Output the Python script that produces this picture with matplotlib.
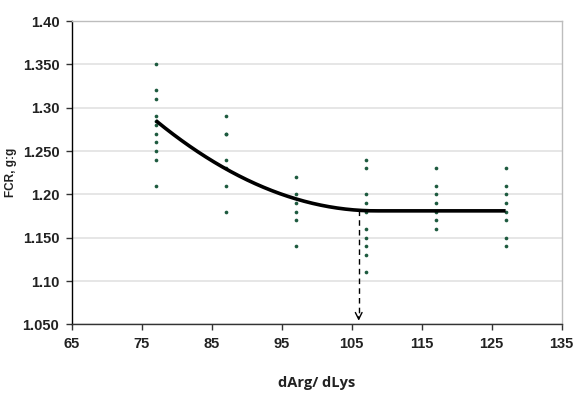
import numpy as np
import matplotlib
matplotlib.use("Agg")
import matplotlib.pyplot as plt

# observed FCR values per dArg/dLys level
x_levels = [77, 87, 97, 107, 117, 127]
fcr_obs = [
    [1.35, 1.32, 1.31, 1.29, 1.285, 1.28, 1.27, 1.26, 1.25, 1.24, 1.21],
    [1.29, 1.27, 1.27, 1.24, 1.23, 1.21, 1.18],
    [1.22, 1.20, 1.19, 1.18, 1.17, 1.14],
    [1.24, 1.23, 1.20, 1.19, 1.18, 1.16, 1.15, 1.14, 1.13, 1.11],
    [1.23, 1.21, 1.20, 1.19, 1.18, 1.17, 1.16],
    [1.23, 1.21, 1.20, 1.19, 1.18, 1.17, 1.15, 1.14],
]

# quadratic-plateau fit
fit_start, fit_end = 77, 127
plateau = 1.181
vertex = 108.5
curv = 0.000105
breakpoint_x = 106

y_ticks = [1.050, 1.10, 1.150, 1.20, 1.250, 1.30, 1.350, 1.40]
y_ticklabels = ["1.050", "1.10", "1.150", "1.20", "1.250", "1.30", "1.350", "1.40"]
x_ticks = [65, 75, 85, 95, 105, 115, 125, 135]

dot_color = "#1d5a3f"
font = "Liberation Sans"

fig = plt.figure(figsize=(5.79, 3.98), dpi=100)
ax = fig.add_axes([0.124, 0.185, 0.846, 0.762])

for xv, ys in zip(x_levels, fcr_obs):
    ax.scatter([xv] * len(ys), ys, s=7, color=dot_color, zorder=3, linewidths=0)

xs = np.linspace(fit_start, fit_end, 300)
ys_fit = np.where(xs < vertex, plateau + curv * (vertex - xs) ** 2, plateau)
ax.plot(xs, ys_fit, color="black", lw=2.6, zorder=4, solid_capstyle="butt")

y_break = plateau + curv * max(vertex - breakpoint_x, 0) ** 2
ax.plot([breakpoint_x, breakpoint_x], [y_break, 1.058], color="black",
        lw=1.0, ls=(0, (4, 3)), zorder=2)
ax.annotate("", xy=(breakpoint_x, 1.051), xytext=(breakpoint_x, 1.062),
            arrowprops=dict(arrowstyle="->", color="black", lw=1.0,
                            mutation_scale=12))

ax.set_xlim(65, 135)
ax.set_ylim(1.05, 1.40)
ax.set_xticks(x_ticks)
ax.set_yticks(y_ticks)
ax.set_yticklabels(y_ticklabels)

for lab in ax.get_xticklabels() + ax.get_yticklabels():
    lab.set_fontfamily(font)
    lab.set_fontweight("bold")
    lab.set_fontsize(10.5)
    lab.set_color("#222222")

ax.tick_params(direction="out", length=4, width=1, color="#333333", pad=5)
ax.grid(axis="y", color="#e2e2e2", lw=1.2, zorder=0)
ax.set_axisbelow(True)

ax.spines["left"].set_color("black")
ax.spines["bottom"].set_color("#333333")
ax.spines["top"].set_color("#bdbdbd")
ax.spines["right"].set_color("#bdbdbd")
for sp in ax.spines.values():
    sp.set_linewidth(1.0)

ax.set_xlabel("dArg/ dLys", fontfamily="Open Sans", fontweight="bold",
              fontsize=10.5, labelpad=18, color="#222222")
ax.set_ylabel("FCR, g:g", fontfamily=font, fontweight="bold", fontsize=8.5,
              labelpad=4, color="#222222")

fig.savefig("out.png", dpi=100)
